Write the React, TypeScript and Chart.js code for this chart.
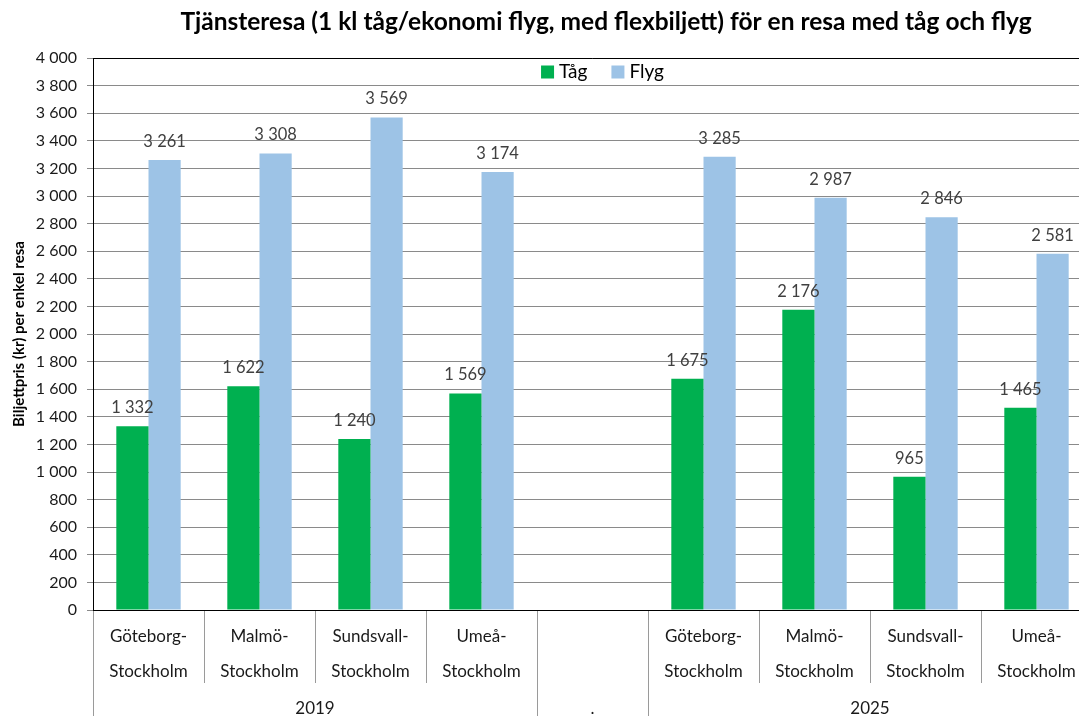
import React, { useEffect, useRef } from 'react';
import { Chart, registerables } from 'chart.js';

Chart.register(...registerables);

const titleText = 'Tjänsteresa (1 kl tåg/ekonomi flyg, med flexbiljett) för en resa med tåg och flyg';
const yTitle = 'Biljettpris (kr) per enkel resa';

const categories: string[][] = [
  ['Göteborg-', 'Stockholm'],
  ['Malmö-', 'Stockholm'],
  ['Sundsvall-', 'Stockholm'],
  ['Umeå-', 'Stockholm'],
  [],
  ['Göteborg-', 'Stockholm'],
  ['Malmö-', 'Stockholm'],
  ['Sundsvall-', 'Stockholm'],
  ['Umeå-', 'Stockholm'],
];

const groupLabels = ['2019', '.', '2025'];
const groupStarts = [0, 4, 5];
const groupEnds = [3, 4, 8];

const tagValues: (number | null)[] = [1332, 1622, 1240, 1569, null, 1675, 2176, 965, 1465];
const flygValues: (number | null)[] = [3261, 3308, 3569, 3174, null, 3285, 2987, 2846, 2581];

const seriesNames = ['Tåg', 'Flyg'];
const seriesColors = ['#00B050', '#9DC3E6'];

const yMin = 0;
const yMax = 4000;
const yStep = 200;

const FONT = 'Lato, "Open Sans", sans-serif';

function fmt(v: number): string {
  return String(Math.round(v)).replace(/\B(?=(\d{3})+(?!\d))/g, ' ');
}

const titlePlugin = {
  id: 'customTitle',
  afterDraw(chart: any) {
    const ctx = chart.ctx;
    ctx.save();
    ctx.font = `bold 20px ${FONT}`;
    const w20 = ctx.measureText(titleText).width;
    const size = Math.min(26, Math.max(16, (20 * 852) / w20));
    ctx.font = `bold ${size.toFixed(1)}px ${FONT}`;
    ctx.fillStyle = '#000';
    ctx.textAlign = 'center';
    ctx.textBaseline = 'middle';
    ctx.fillText(titleText, 606, 22);
    ctx.restore();
  },
};

const framePlugin = {
  id: 'frame',
  afterDraw(chart: any) {
    const { ctx, chartArea } = chart;
    ctx.save();
    ctx.strokeStyle = '#000';
    ctx.lineWidth = 1;
    ctx.beginPath();
    ctx.moveTo(chartArea.left, chartArea.top + 0.5);
    ctx.lineTo(chartArea.right, chartArea.top + 0.5);
    ctx.stroke();
    ctx.restore();
  },
};

const legendPlugin = {
  id: 'customLegend',
  afterDraw(chart: any) {
    const { ctx, chartArea } = chart;
    ctx.save();
    ctx.font = `19px ${FONT}`;
    ctx.textBaseline = 'middle';
    ctx.textAlign = 'left';
    const box = 13;
    const gap = 5;
    const itemGap = 24;
    const ds = chart.data.datasets;
    let total = 0;
    const widths = ds.map((d: any) => ctx.measureText(d.label).width);
    widths.forEach((w: number, i: number) => {
      total += box + gap + w + (i < widths.length - 1 ? itemGap : 0);
    });
    const cx = (chartArea.left + chartArea.right) / 2 + 10;
    let x = cx - total / 2;
    const y = chartArea.top + 14;
    ds.forEach((d: any, i: number) => {
      ctx.fillStyle = d.backgroundColor;
      ctx.fillRect(x, y - box / 2, box, box);
      ctx.fillStyle = '#000';
      ctx.fillText(d.label, x + box + gap, y);
      x += box + gap + widths[i] + itemGap;
    });
    ctx.restore();
  },
};

const dataLabelPlugin = {
  id: 'dataLabels',
  afterDatasetsDraw(chart: any) {
    const ctx = chart.ctx;
    ctx.save();
    ctx.font = `16.5px ${FONT}`;
    ctx.fillStyle = '#404040';
    ctx.textAlign = 'center';
    ctx.textBaseline = 'alphabetic';
    chart.data.datasets.forEach((ds: any, di: number) => {
      const meta = chart.getDatasetMeta(di);
      meta.data.forEach((bar: any, i: number) => {
        const v = ds.data[i];
        if (v === null || v === undefined) return;
        ctx.fillText(fmt(v), bar.x, bar.y - 13);
      });
    });
    ctx.restore();
  },
};

const xLabelPlugin = {
  id: 'xLabels',
  afterDraw(chart: any) {
    const { ctx, chartArea } = chart;
    const xs = chart.scales.x;
    const w = xs.getPixelForValue(1) - xs.getPixelForValue(0);
    const bottom = chartArea.bottom;
    ctx.save();
    ctx.font = `17px ${FONT}`;
    ctx.fillStyle = '#1a1a1a';
    ctx.textAlign = 'center';
    ctx.textBaseline = 'middle';
    categories.forEach((lines, i) => {
      const cx = xs.getPixelForValue(i);
      lines.forEach((ln, li) => {
        ctx.fillText(ln, cx, bottom + 27 + li * 35);
      });
    });
    groupLabels.forEach((g, gi) => {
      const a = xs.getPixelForValue(groupStarts[gi]) - w / 2;
      const b = xs.getPixelForValue(groupEnds[gi]) + w / 2;
      ctx.fillText(g, (a + b) / 2, bottom + 99);
    });
    ctx.strokeStyle = '#9a9a9a';
    ctx.lineWidth = 1;
    for (let i = 0; i <= categories.length; i++) {
      const x = Math.round(xs.getPixelForValue(0) - w / 2 + i * w) + 0.5;
      const isGroup = groupStarts.includes(i) || i === categories.length;
      ctx.beginPath();
      ctx.moveTo(x, bottom + 1);
      ctx.lineTo(x, isGroup ? bottom + 110 : bottom + 73);
      ctx.stroke();
    }
    ctx.restore();
  },
};

export default function App() {
  const ref = useRef<HTMLCanvasElement | null>(null);
  useEffect(() => {
    if (!ref.current) return;
    const chart = new Chart(ref.current, {
      type: 'bar',
      data: {
        labels: categories.map((c) => c.join('')),
        datasets: [
          {
            label: seriesNames[0],
            data: tagValues as any,
            backgroundColor: seriesColors[0],
            barPercentage: 1,
            categoryPercentage: 0.58,
          },
          {
            label: seriesNames[1],
            data: flygValues as any,
            backgroundColor: seriesColors[1],
            barPercentage: 1,
            categoryPercentage: 0.58,
          },
        ],
      },
      options: {
        responsive: false,
        animation: false,
        layout: { padding: { top: 58, bottom: 98, left: 0, right: 8 } },
        plugins: {
          legend: { display: false },
          title: { display: false },
          tooltip: { enabled: false },
        },
        scales: {
          x: {
            offset: true,
            grid: { display: false },
            ticks: { display: false },
            border: { display: true, color: '#000', width: 1 },
          },
          y: {
            min: yMin,
            max: yMax,
            afterFit: (scale: any) => {
              scale.width = 93;
            },
            ticks: {
              stepSize: yStep,
              padding: 10,
              color: '#1a1a1a',
              font: { family: FONT, size: 16 },
              callback: (v: any) => fmt(Number(v)),
            },
            grid: {
              color: '#8a8a8a',
              tickColor: '#8a8a8a',
              tickLength: 6,
            },
            border: { display: true, color: '#000', width: 1 },
            title: {
              display: true,
              text: yTitle,
              color: '#000',
              font: { family: FONT, size: 15, weight: 'bold' },
              padding: { top: 10, bottom: 0 },
            },
          },
        },
      },
      plugins: [titlePlugin, framePlugin, legendPlugin, dataLabelPlugin, xLabelPlugin],
    } as any);
    return () => chart.destroy();
  }, []);

  return (
    <div
      style={{
        position: 'fixed',
        left: 0,
        top: 0,
        width: 1079,
        height: 716,
        overflow: 'hidden',
        background: '#fff',
      }}
    >
      <canvas ref={ref} width={1100} height={716} style={{ display: 'block' }} />
    </div>
  );
}
